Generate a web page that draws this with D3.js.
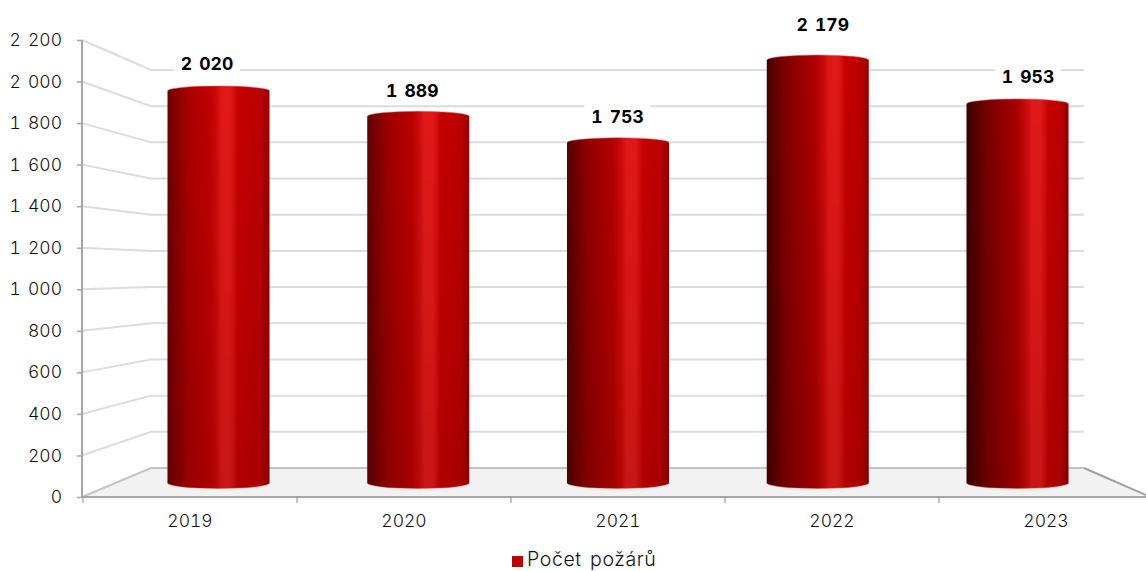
<!DOCTYPE html>
<html><head><meta charset="utf-8">
<style>html,body{margin:0;padding:0;background:#fff}svg{display:block}text{font-family:Inter,Lato,sans-serif;font-feature-settings:"tnum";word-spacing:2.5px}</style>
<script src="https://cdn.jsdelivr.net/npm/d3@7/dist/d3.min.js"></script>
</head><body><div id="c"></div>
<script>
const years=["2019","2020","2021","2022","2023"];
const fires=[2020,1889,1753,2179,1953];
const yTicks=[0,200,400,600,800,1000,1200,1400,1600,1800,2000,2200];
const legendLabel="Počet požárů";
const W=1146,H=571;
const fmt=v=>String(v).replace(/\B(?=(\d{3})+$)/g," ");
const svg=d3.select("#c").append("svg").attr("width",W).attr("height",H);
const defs=svg.append("defs");

const yFront=d3.scaleLinear().domain([0,2200]).range([497,40]);
const yBack=d3.scaleLinear().domain([0,2200]).range([468,70]);
const yBar=d3.scaleLinear().domain([0,2200]).range([483,56]);
const xCat=d3.scaleBand().domain(years).range([83,1153]);
const xBar=d3.scalePoint().domain(years).range([218.5,1017.5]);
const xLab=d3.scalePoint().domain(years).range([207,1028]);
const backL=151,backR=1084,frontL=82;

// floor
svg.append("path").attr("fill","#f2f2f2")
 .attr("d",`M${frontL},497L${backL},468L${backR},468L${W},497Z`);

// gridlines
svg.append("g").selectAll("path").data(yTicks).join("path")
 .attr("fill","none").attr("stroke",d=>d===0?"#c4c4c4":"#dcdcdc").attr("stroke-width",2)
 .attr("d",d=>`M${frontL},${yFront(d)}L${backL},${yBack(d)}L${backR},${yBack(d)}`);
svg.append("path").attr("fill","none").attr("stroke","#a0a0a0").attr("stroke-width",2)
 .attr("d",`M${backR},468L${W},495`);

// axes
const ax=svg.append("g").attr("transform",`translate(${frontL},0)`)
 .call(d3.axisLeft(yFront).tickValues(yTicks).tickFormat(fmt).tickSize(5).tickPadding(15));
ax.select(".domain").attr("stroke","#a6a6a6").attr("stroke-width",2).attr("d","M0,40V497");
ax.selectAll(".tick line").attr("stroke","#a6a6a6").attr("stroke-width",1.5);
ax.selectAll("text").attr("font-size",17.5).attr("font-family","Inter").attr("font-weight",300).attr("fill","#111");

const bx=svg.append("g").attr("transform","translate(0,497)")
 .call(d3.axisBottom(xCat).tickSize(0).tickPadding(18));
bx.select(".domain").attr("stroke","#a6a6a6").attr("stroke-width",2).attr("d",`M${frontL},0H${W}`);
bx.selectAll("text").attr("font-size",17.5).attr("font-family","Inter").attr("font-weight",300).attr("fill","#111");
svg.append("g").selectAll("line").data(years).join("line")
 .attr("x1",d=>xCat(d)).attr("x2",d=>xCat(d)).attr("y1",497).attr("y2",503)
 .attr("stroke","#8c8c8c").attr("stroke-width",1);

// cylinders
const rx=51,ry=5,rb=5.5;
const bars=svg.append("g").selectAll("g").data(years).join("g");
bars.each(function(y,i){
  const t=i/4;
  const edge=d3.interpolateRgb("#700000","#3c0000")(t);
  const q1=d3.interpolateRgb("#a80000","#780000")(t);
  const q2=d3.interpolateRgb("#c00000","#a80000")(t);
  const hi=0.55+0.11*t;
  const id="g"+i;
  const g=defs.append("linearGradient").attr("id",id);
  [[0,edge],[0.2,q1],[hi*0.75,q2],[hi-0.07,"#cc0a0a"],[hi-0.02,"#e01818"],[hi+0.07,"#e01818"],[hi+0.14,"#c60000"],[0.92,"#bc0000"],[1,"#8c0000"]]
   .forEach(([o,c])=>g.append("stop").attr("offset",o).attr("stop-color",c));
  const v=fires[i],cx=xBar(y),top=yBar(v),base=yBar(0);
  const d=`M${cx-rx},${top}A${rx},${ry} 0 0 1 ${cx+rx},${top}V${base}A${rx},${rb} 0 0 1 ${cx-rx},${base}Z`;
  const sh="s"+i;
  const s=defs.append("linearGradient").attr("id",sh).attr("x1",0).attr("x2",0).attr("y1",0).attr("y2",1);
  s.append("stop").attr("offset",0).attr("stop-color","#000").attr("stop-opacity",0);
  s.append("stop").attr("offset",1).attr("stop-color","#000").attr("stop-opacity",0.11);
  d3.select(this).append("path").attr("d",d).attr("fill",`url(#${id})`);
  d3.select(this).append("path").attr("d",d).attr("fill",`url(#${sh})`);
  d3.select(this).append("path").attr("fill","none").attr("stroke","#e84a4a").attr("stroke-width",0.8).attr("opacity",.6)
    .attr("d",`M${cx-rx},${top}A${rx},${ry} 0 0 1 ${cx+rx},${top}`);
  d3.select(this).append("path").attr("fill","none").attr("stroke","#e84a4a").attr("stroke-width",0.8).attr("opacity",.5)
    .attr("d",`M${cx-rx},${base}A${rx},${rb} 0 0 0 ${cx+rx},${base}`);
});

// data labels
const labelRise=[27,26,26,35,27];
const lab=svg.append("g").selectAll("g").data(years).join("g")
 .attr("transform",(d,i)=>`translate(${xLab(d)},${yBar(fires[i])-labelRise[i]})`);
lab.append("rect").attr("x",-33).attr("y",-13).attr("width",66).attr("height",26).attr("fill","#fff");
lab.append("text").attr("text-anchor","middle").attr("dy","0.36em").attr("font-size",17.5)
 .attr("font-weight",700).attr("fill","#000").text((d,i)=>fmt(fires[i]));

// legend
svg.append("rect").attr("x",512).attr("y",556).attr("width",11).attr("height",11).attr("fill","#c00000");
svg.append("text").attr("x",527).attr("y",566).attr("font-size",19.5).attr("letter-spacing",0.6).attr("font-weight",300).attr("fill","#111").text(legendLabel);
</script></body></html>
